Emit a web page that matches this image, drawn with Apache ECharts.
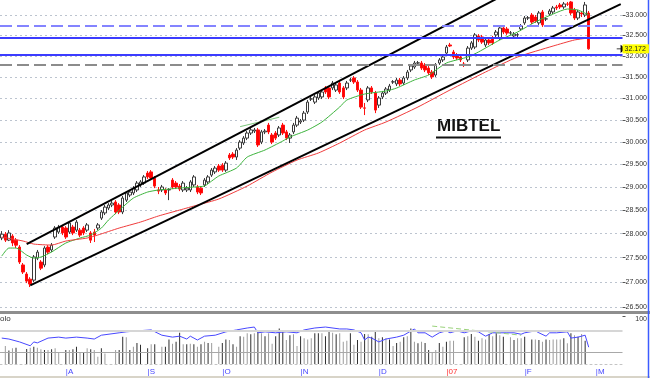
<!DOCTYPE html>
<html>
<head>
<meta charset="utf-8">
<script src="https://cdn.jsdelivr.net/npm/echarts@6/dist/echarts.min.js"></script>
<style>
html, body { margin: 0; padding: 0; background: #fff; }
#main { width: 650px; height: 378px; }
</style>
</head>
<body>
<div id="main"></div>
<script>
// trading days, 6 Jul 2006 .. 12 Mar 2007 (last candle is 27 Feb)
var holidays = ['2006-12-25', '2006-12-26', '2007-01-01'];
var monthTickDates = ['2006-08-01', '2006-09-01', '2006-10-02', '2006-11-01', '2006-12-01', '2007-01-02', '2007-02-01', '2007-03-01'];
var monthTickNames = ['A', 'S', 'O', 'N', 'D', '07', 'F', 'M'];
var priceTicks = [26500, 27000, 27500, 28000, 28500, 29000, 29500, 30000, 30500, 31000, 31500, 32000, 32500, 33000];

var opens = [27910,27990,27865,27950,27865,27720,27350,27165,27060,27040,
 27490,27410,27350,27720,27660,27930,28035,28140,28120,28035,
 28140,28075,28075,28120,28075,28015,28035,28120,28330,28440,
 28545,28610,28675,28610,28460,28715,28825,28870,28935,29045,
 29085,29305,29330,29195,28935,28935,28935,28935,29150,29085,
 29020,28935,28935,28935,29045,29000,28975,29045,29110,29260,
 29330,29460,29480,29370,29705,29725,29660,29860,29975,30085,
 30200,30245,30270,29995,30225,30380,30155,30200,30155,30380,
 30225,30085,30225,30380,30450,30495,30680,30980,30910,31005,
 31030,31240,31240,31240,31190,31355,31240,31240,31425,31475,
 31380,31190,30775,30960,31240,31120,30840,31030,31120,31190,
 31380,31335,31425,31355,31475,31665,31735,31830,31830,31785,
 31710,31615,31545,31830,31905,32070,32265,32095,32025,31975,
 31805,31905,32190,32215,32485,32460,32265,32385,32435,32510,
 32435,32680,32655,32555,32485,32510,32655,32805,32925,33000,
 32950,32805,33075,32900,33025,33075,33200,33250,33200,33275,
 33325,33125,32925,33050,33000,33050];
var closes = [27990,27865,28015,27805,27760,27410,27205,27020,26960,27515,
 27615,27285,27700,27615,27760,28120,28140,28015,27930,28225,
 28015,28245,27970,28015,28185,27865,27970,28185,28460,28565,
 28610,28650,28460,28460,28760,28870,28890,28975,29085,29110,
 29220,29220,29195,29020,28910,29000,28870,28945,29000,29000,
 28955,29085,28975,29110,29220,28890,28870,29150,29220,29370,
 29415,29370,29370,29525,29640,29660,29815,29995,30085,30200,
 30270,30270,29930,30225,30245,30225,29995,30085,30315,30200,
 30085,30155,30380,30540,30475,30655,30910,30985,31030,31120,
 31145,31145,31030,31355,31310,31145,31030,31355,31430,31380,
 31190,30795,30770,31240,31145,30725,31005,31120,31215,31285,
 31385,31425,31335,31475,31615,31760,31830,31835,31710,31665,
 31595,31500,31785,31905,31975,32215,32240,31975,31950,31905,
 31785,32190,32315,32510,32385,32335,32385,32315,32315,32580,
 32680,32580,32555,32560,32530,32515,32730,32925,32930,32825,
 32850,33050,32755,32905,33100,33175,33175,33200,33275,33270,
 33050,32925,33075,33025,33250,32172];
var lows = [27865,27825,27845,27740,27700,27370,27165,26980,26900,27000,
 27450,27245,27305,27575,27615,27890,27995,27970,27890,27995,
 27970,28035,27930,27970,28035,27805,27825,28075,28290,28395,
 28500,28565,28415,28415,28415,28675,28780,28825,28890,29000,
 29045,29175,29150,28975,28845,28890,28825,28715,28955,28955,
 28910,28890,28890,28890,29000,28845,28825,29000,29065,29220,
 29285,29330,29330,29330,29595,29615,29595,29815,29930,30040,
 30155,30200,29885,29950,30175,30175,29950,30040,30110,30155,
 30040,29975,30175,30335,30405,30450,30635,30935,30865,30960,
 30980,31100,30980,31190,31145,31100,30980,31190,31380,31335,
 31145,30750,30610,30910,31100,30655,30775,30980,31075,31145,
 31335,31285,31285,31310,31425,31615,31690,31785,31665,31615,
 31545,31450,31500,31785,31855,32025,32215,31925,31905,31855,
 31735,31855,32145,32165,32335,32290,32215,32265,32265,32460,
 32385,32530,32510,32510,32435,32460,32605,32755,32875,32775,
 32805,32755,32705,32850,32975,33025,33125,33150,33150,33225,
 33000,32875,32875,32950,32950,32150];
var highs = [28055,28035,28075,27990,27910,27760,27390,27205,27100,27555,
 27660,27450,27740,27760,27805,28160,28185,28185,28160,28265,
 28185,28290,28120,28160,28225,28055,28100,28225,28500,28610,
 28650,28715,28715,28650,28805,28910,28935,29020,29130,29150,
 29260,29350,29370,29240,29000,29045,28975,28975,29195,29130,
 29065,29130,29020,29150,29260,29045,29020,29195,29260,29415,
 29460,29505,29525,29570,29750,29770,29860,30040,30130,30245,
 30315,30315,30315,30270,30290,30430,30200,30245,30360,30430,
 30270,30200,30430,30590,30520,30705,30960,31030,31075,31170,
 31190,31285,31285,31405,31355,31405,31285,31405,31475,31520,
 31425,31240,30890,31285,31285,31170,31050,31170,31260,31335,
 31425,31475,31475,31520,31665,31805,31880,31880,31880,31830,
 31760,31665,31830,31950,32025,32265,32315,32145,32070,32025,
 31855,32240,32360,32555,32530,32510,32435,32435,32485,32630,
 32730,32730,32705,32605,32580,32555,32775,32975,32975,33050,
 33000,33100,33125,32950,33150,33225,33250,33300,33325,33325,
 33350,33175,33125,33100,33325,33100];

// moving averages: [day index, value]
var fastMA = [[0,27534],[2,27700],[4,27700],[7,27554],[9,27492],[11,27513],[14,27617],[18,27804],[22,27909],[25,27972],
 [28,28119],[30,28289],[34,28566],[37,28760],[41,28890],[44,28934],[47,28955],[50,28977],[54,28999],[57,29021],
 [59,29130],[61,29240],[66,29416],[69,29660],[74,29817],[79,30019],[81,30110],[86,30268],[90,30451],[95,30796],
 [97,30958],[102,31098],[108,31168],[111,31238],[116,31427],[120,31545],[125,31831],[131,31975],[134,32095],[140,32386],
 [145,32581],[150,32827],[155,33025],[159,33149],[162,33124],[165,33000]];
var slowMA = [[0,27930],[6,27846],[9,27783],[14,27762],[18,27846],[24,27909],[27,27972],[33,28119],[39,28246],[44,28374],
 [50,28502],[55,28609],[61,28739],[69,29021],[76,29328],[83,29593],[89,29750],[95,29974],[102,30268],[108,30451],
 [117,30796],[126,31192],[136,31616],[145,31975],[155,32240],[161,32386],[165,32435]];

// drawn lines: channel and short trendline
var upperChannel = [[7, 27780], [139, 33400]];
var lowerChannel = [[8, 26935], [174, 33272]];
var maTrend = [[67, 30345], [78, 30560]];
var levels = [32740, 32440, 32030, 31790];
var lastPrice = 32172;

// lower panel
var volDark = [[2,28],[4,34],[7,31],[9,36],[12,29],[14,30.5],[18,29],[20,30.5],[21,36],[23,25],[25,30.5],[28,33],[33,29],[34,57],
 [36,29],[38,44],[39,40],[41,33],[43,41],[46,36],[47,51],[49,46.5],[50,65],[52,41],[54,41],[56,41],[58,44],[62,44],[63,51],
 [65,41],[67,58],[70,62],[72,71],[74,58],[77,58],[78,74],[79,71],[81,60],[84,58],[88,64],[89,64],[91,58],[92,71],[94,62],
 [98,64],[100,50],[102,62.5],[104,57],[105,67],[107,55.5],[109,51],[111,44],[113,55.5],[115,74],[117,43],[119,44],[120,29],
 [123,44],[125,46.5],[130,55.5],[132,62.5],[134,48.5],[137,62.5],[139,64],[141,57],[144,50],[147,57],[149,51],[151,50],
 [153,51],[158,53.5],[160,64],[162,57],[164,48.5]];
var volGray = [[1,37.5],[3,33],[8,34],[10,34],[11,30.5],[13,29],[15,33],[16,24],[19,29],[22,23.5],[24,33],[26,29],[27,15],
 [29,22],[32,29],[35,55.5],[37,36],[42,41],[45,36],[48,42],[51,41],[53,42],[55,36],[57,46.5],[59,44],[61,36],[64,50],[66,36],
 [68,57],[69,64],[71,64],[73,64],[75,64],[76,42],[80,50],[82,62],[83,37.5],[85,53.5],[86,51],[87,53.5],[90,64],[93,65],
 [95,64],[96,46.5],[97,48.5],[99,40],[101,46.5],[103,62],[106,53.5],[108,53.5],[110,37.5],[112,46.5],[114,58],[116,46.5],
 [118,46.5],[121,23.5],[122,29],[124,36],[126,48.5],[127,48.5],[131,58],[133,57],[135,53.5],[136,51],[138,58],[140,60],
 [143,55.5],[145,53.5],[146,53.5],[150,51],[152,46.5],[154,50],[155,51],[156,51],[157,51],[159,43],[161,60],[163,62.5]];
var oscLine = [[0,54],[2,52],[5,46],[8,38],[9,46],[10,44],[13,54],[16,56],[18,54],[21,56],[24,54],[26,52],[28,60],[33,65],
 [35,67],[38,69],[42,71],[45,60],[48,56],[50,58],[52,52],[53,58],[55,50],[57,58],[60,60],[63,67],[66,71],[69,75],[71,77],
 [72,65],[74,67],[77,65],[80,67],[83,65],[85,71],[88,75],[91,77],[95,73],[97,73],[99,71],[101,65],[102,50],[103,56],
 [104,54],[106,46],[108,52],[111,56],[113,60],[116,73],[117,65],[119,65],[121,56],[123,65],[125,69],[126,65],[128,69],
 [130,65],[132,69],[134,67],[136,58],[138,65],[140,65],[142,65],[144,65],[146,62],[147,65],[150,69],[151,65],[153,58],
 [154,65],[156,65],[159,67],[160,54],[162,56],[164,60],[165,35]];
var oscTrend = [[121, 79], [146, 60]];
var oscLevels = [70, 25];

function tradingDays(from, to, skip) {
	var out = [];
	var d = new Date(from + 'T00:00:00Z');
	var end = new Date(to + 'T00:00:00Z');
	while (d <= end) {
		var s = d.toISOString().slice(0, 10);
		var w = d.getUTCDay();
		if (w !== 0 && w !== 6 && skip.indexOf(s) < 0) out.push(s);
		d.setUTCDate(d.getUTCDate() + 1);
	}
	return out;
}
var dates = tradingDays('2006-07-06', '2007-03-12', holidays);

function itNum(v) {
	var s = String(Math.round(v));
	return s.slice(0, s.length - 3) + '.' + s.slice(-3);
}

var candles = [];
for (var i = 0; i < opens.length; i++) {
	candles.push([opens[i], closes[i], lows[i], highs[i]]);
}

var levelStyles = [
	{ color: '#8484ff', width: 2, type: [12, 5] },
	{ color: '#3c3cff', width: 2, type: 'solid' },
	{ color: '#3c3cff', width: 2, type: 'solid' },
	{ color: '#8c8c8c', width: 2, type: [12, 5] }
];
var levelLines = levels.map(function (v, k) {
	return { yAxis: v, lineStyle: levelStyles[k], label: { show: false } };
});
levelLines.push({
	yAxis: lastPrice,
	lineStyle: { color: 'rgba(0,0,0,0)', width: 1 },
	label: {
		show: true, position: 'end', distance: 0, formatter: itNum(lastPrice),
		backgroundColor: '#ffff00', color: '#222', fontSize: 7, lineHeight: 8,
		padding: [1, 3, 0, 2]
	}
});

var chart = echarts.init(document.getElementById('main'));
chart.setOption({
	animation: false,
	backgroundColor: '#ffffff',
	textStyle: { fontFamily: 'Liberation Sans, Arial, sans-serif' },
	grid: [
		{ left: 0, top: 0, width: 622.5, height: 310 },
		{ left: 0, top: 316, width: 622.5, height: 48 }
	],
	xAxis: [{
		type: 'category', gridIndex: 0, data: dates,
		axisLine: { show: false }, axisTick: { show: false }, axisLabel: { show: false }, splitLine: { show: false }
	}, {
		type: 'category', gridIndex: 1, data: dates,
		axisLine: { show: true, lineStyle: { color: '#c4c4c4', type: [2, 3] } },
		axisTick: { show: false },
		splitLine: { show: false },
		axisLabel: {
			interval: function (idx, val) { return monthTickDates.indexOf(val) >= 0; },
			formatter: function (val) {
				var k = monthTickDates.indexOf(val);
				return (monthTickNames[k] === '07' ? '{r||' : '{b||') + monthTickNames[k] + '}';
			},
			align: 'left', margin: 4,
			rich: {
				b: { color: '#4646ff', fontSize: 8 },
				r: { color: '#ff3030', fontSize: 8 }
			}
		}
	}],
	yAxis: [{
		type: 'log', gridIndex: 0, position: 'right',
		min: 26440, max: 33374,
		axisLine: { show: false },
		axisTick: { show: true, customValues: priceTicks, length: 3, lineStyle: { color: '#555' } },
		axisLabel: {
			customValues: priceTicks, formatter: itNum,
			fontSize: 7, color: '#333', align: 'right', margin: 24.5
		},
		splitLine: { show: true, lineStyle: { color: '#bcc4cf', width: 1, type: [2, 3] } }
	}, {
		type: 'value', gridIndex: 1, position: 'right', min: 0, max: 100,
		axisLine: { show: false },
		axisTick: { show: true, customValues: [100], length: 3, lineStyle: { color: '#555' } },
		axisLabel: { customValues: [100], fontSize: 7, color: '#333', align: 'right', margin: 24.5, verticalAlign: 'top' },
		splitLine: { show: false }
	}],
	series: [{
		type: 'candlestick', xAxisIndex: 0, yAxisIndex: 0,
		data: candles, barWidth: 3,
		itemStyle: { color: '#ffffff', color0: '#ff0000', borderColor: '#3a3a3a', borderColor0: '#ff1010', borderWidth: 1 },
		markLine: { silent: true, symbol: ['none', 'none'], data: levelLines },
		markPoint: {
			silent: true,
			data: [{ coord: [174, lastPrice], symbol: 'path://M0,4L5,4M5,1L9,4L5,7Z', symbolSize: [8, 6],
				itemStyle: { color: '#000', borderColor: '#000', borderWidth: 1 }, label: { show: false } }]
		}
	}, {
		type: 'line', xAxisIndex: 0, yAxisIndex: 0, data: fastMA, showSymbol: false, smooth: 0.2,
		lineStyle: { color: '#3cb43c', width: 1 }
	}, {
		type: 'line', xAxisIndex: 0, yAxisIndex: 0, data: slowMA, showSymbol: false, smooth: 0.2,
		lineStyle: { color: '#f03c3c', width: 1 }
	}, {
		type: 'line', xAxisIndex: 0, yAxisIndex: 0, data: maTrend, showSymbol: false,
		lineStyle: { color: '#7cc87c', width: 1 }
	}, {
		type: 'line', xAxisIndex: 0, yAxisIndex: 0, data: upperChannel, showSymbol: false,
		lineStyle: { color: '#000', width: 2 }
	}, {
		type: 'line', xAxisIndex: 0, yAxisIndex: 0, data: lowerChannel, showSymbol: false,
		lineStyle: { color: '#000', width: 2 }
	}, {
		type: 'bar', xAxisIndex: 1, yAxisIndex: 1, data: volDark, barWidth: 1, barGap: '-100%',
		itemStyle: { color: '#2e2e2e' }
	}, {
		type: 'bar', xAxisIndex: 1, yAxisIndex: 1, data: volGray, barWidth: 1, barGap: '-100%',
		itemStyle: { color: '#9c9c9c' }
	}, {
		type: 'line', xAxisIndex: 1, yAxisIndex: 1, data: oscLine, showSymbol: false,
		lineStyle: { color: '#4848ff', width: 1 },
		markLine: {
			silent: true, symbol: ['none', 'none'], label: { show: false },
			data: [
				{ yAxis: oscLevels[0], lineStyle: { color: '#d6d6d6', width: 2, type: 'solid' } },
				{ yAxis: oscLevels[1], lineStyle: { color: '#a8a8a8', width: 1, type: 'solid' } }
			]
		}
	}, {
		type: 'line', xAxisIndex: 1, yAxisIndex: 1, data: oscTrend, showSymbol: false,
		lineStyle: { color: '#9ad27a', width: 1, type: [5, 3] }
	}],
	graphic: [
		{ type: 'rect', shape: { x: 0, y: 311, width: 650, height: 3 }, style: { fill: '#8e8e8e' }, silent: true },
		{ type: 'rect', shape: { x: 0, y: 376, width: 650, height: 2 }, style: { fill: '#d8d4c8' }, silent: true },
		{ type: 'line', shape: { x1: 648.5, y1: 0, x2: 648.5, y2: 378 }, style: { stroke: '#3c5cff', lineWidth: 1.5 }, silent: true },
		{ type: 'text', x: 437, y: 118, style: { text: 'MIBTEL', font: 'bold 17px Liberation Sans, Arial, sans-serif', fill: '#111' }, silent: true },
		{ type: 'rect', shape: { x: 436, y: 136.5, width: 65, height: 2 }, style: { fill: '#111' }, silent: true },
		{ type: 'text', x: 0, y: 315, style: { text: 'olo', font: '8px Liberation Sans, Arial, sans-serif', fill: '#333' }, silent: true }
	]
});
</script>
</body>
</html>
